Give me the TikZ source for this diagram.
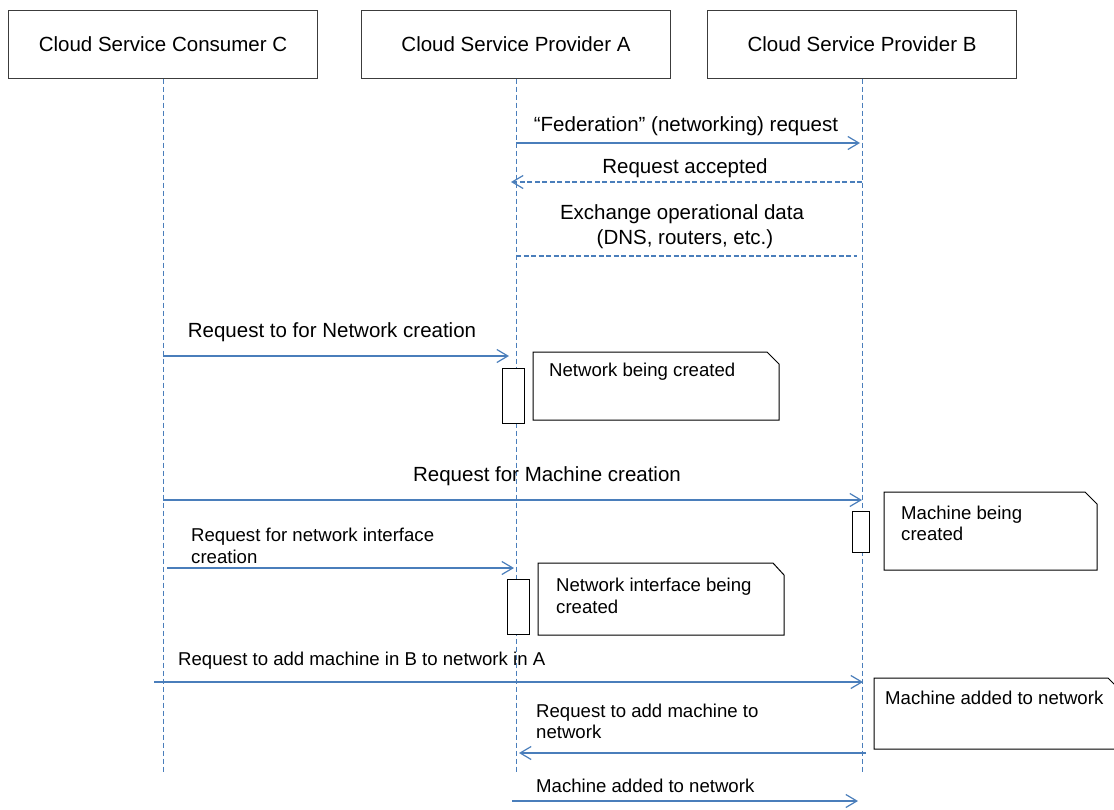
\documentclass[tikz,border=0pt]{standalone}
\usepackage{fontspec}
\setmainfont{Liberation Sans}
\usetikzlibrary{arrows.meta}
\definecolor{lineblue}{RGB}{74,126,187}
\definecolor{boxgray}{RGB}{60,60,60}
\tikzset{
  head/.style={draw=boxgray, line width=1pt, minimum width=309pt, minimum height=68pt, inner sep=0pt, font=\fontsize{20.5}{25}\selectfont},
  life/.style={draw=lineblue, line width=1pt, dash pattern=on 5pt off 3pt},
  msg/.style={draw=lineblue, line width=1.2pt, -{Straight Barb[length=11pt,width=13pt,line width=1.2pt]}},
  rmsg/.style={msg, dash pattern=on 5pt off 2.5pt},
  plainmsg/.style={draw=lineblue, line width=1.2pt, dash pattern=on 5pt off 2.5pt},
  act/.style={draw=black, line width=1pt, fill=white, inner sep=0pt},
  notebox/.style={draw=black, line width=1pt, fill=white},
  big/.style={font=\fontsize{20.5}{25}\selectfont, inner sep=0pt},
  small/.style={font=\fontsize{18.6}{21.5}\selectfont, inner sep=0pt, align=left},
}
\begin{document}
\begin{tikzpicture}[x=1pt,y=-1pt]
\useasboundingbox (0,0) rectangle (1114,809);
\clip (0,0) rectangle (1114,809);
% headers
\node[head] (C) at (163,44) {Cloud Service Consumer C};
\node[head] (A) at (516,44) {Cloud Service Provider A};
\node[head] (B) at (862,44) {Cloud Service Provider B};
% lifeline ends
\coordinate (Cend) at (163,772);
\coordinate (Aend) at (516,772);
\coordinate (Bend) at (862,772);
\draw[life] (C.south) -- (Cend);
\draw[life] (A.south) -- (Aend);
\draw[life] (B.south) -- (Bend);

% message endpoints
\coordinate (m1s) at (516,143); \coordinate (m1e) at (860,143);
\coordinate (m2s) at (862,182); \coordinate (m2e) at (511,182);
\coordinate (m3s) at (516,256); \coordinate (m3e) at (857,256);
\coordinate (m4s) at (163,356); \coordinate (m4e) at (509,356);
\coordinate (m5s) at (163,500); \coordinate (m5e) at (862,500);
\coordinate (m6s) at (167,568); \coordinate (m6e) at (514,568);
\coordinate (m7s) at (154,682); \coordinate (m7e) at (863,682);
\coordinate (m8s) at (866,753); \coordinate (m8e) at (519,753);
\coordinate (m9s) at (512,801); \coordinate (m9e) at (858,801);

% activation boxes
\node[act, minimum width=22pt, minimum height=55pt] (actA1) at (513,395.5) {};
\node[act, minimum width=17pt, minimum height=41pt] (actB1) at (860.5,531.5) {};
\node[act, minimum width=22pt, minimum height=55pt] (actA2) at (518,606.5) {};

% notes
\draw[notebox] (533,352) -- (767,352) -- (779,364) -- (779,420) -- (533,420) -- cycle;
\draw[notebox] (884,492) -- (1085,492) -- (1097,504) -- (1097,570) -- (884,570) -- cycle;
\draw[notebox] (538,563) -- (773,563) -- (784,575) -- (784,635) -- (538,635) -- cycle;
\draw[notebox] (1130,749) -- (874,749) -- (874,678) -- (1108,678) -- (1130,700);

\node[small, anchor=base west] (n1) at (549,376) {Network being created};
\node[small, anchor=base west] (n2a) at (901,519) {Machine being};
\node[small, anchor=base west] (n2b) at (901,540) {created};
\node[small, anchor=base west] (n3a) at (556,591) {Network interface being};
\node[small, anchor=base west] (n3b) at (556,613) {created};
\node[small, anchor=base west] (n4) at (885,704) {Machine added to network};

% messages
\draw[msg] (m1s) -- (m1e);
\draw[rmsg] (m2s) -- (m2e);
\draw[plainmsg] (m3s) -- (m3e);
\draw[msg] (m4s) -- (m4e);
\draw[msg] (m5s) -- (m5e);
\draw[msg] (m6s) -- (m6e);
\draw[msg] (m7s) -- (m7e);
\draw[msg] (m8s) -- (m8e);
\draw[msg] (m9s) -- (m9e);

% labels
\node[big, anchor=base] (l1) at (686,131) {“Federation” (networking) request};
\node[big, anchor=base] (l2) at (685,173) {Request accepted};
\node[big, anchor=base] (l3a) at (682,219) {Exchange operational data};
\node[big, anchor=base] (l3b) at (685,244) {(DNS, routers, etc.)};
\node[big, anchor=base] (l4) at (332,337) {Request to for Network creation};
\node[big, anchor=base] (l5) at (547,481) {Request for Machine creation};
\node[small, anchor=base west] (l6a) at (191,541) {Request for network interface};
\node[small, anchor=base west] (l6b) at (191,563) {creation};
\node[small, anchor=base west] (l7) at (178,665) {Request to add machine in B to network in A};
\node[small, anchor=base west] (l8a) at (536,717) {Request to add machine to};
\node[small, anchor=base west] (l8b) at (536,738) {network};
\node[small, anchor=base west] (l9) at (536,792) {Machine added to network};
\end{tikzpicture}
\end{document}
